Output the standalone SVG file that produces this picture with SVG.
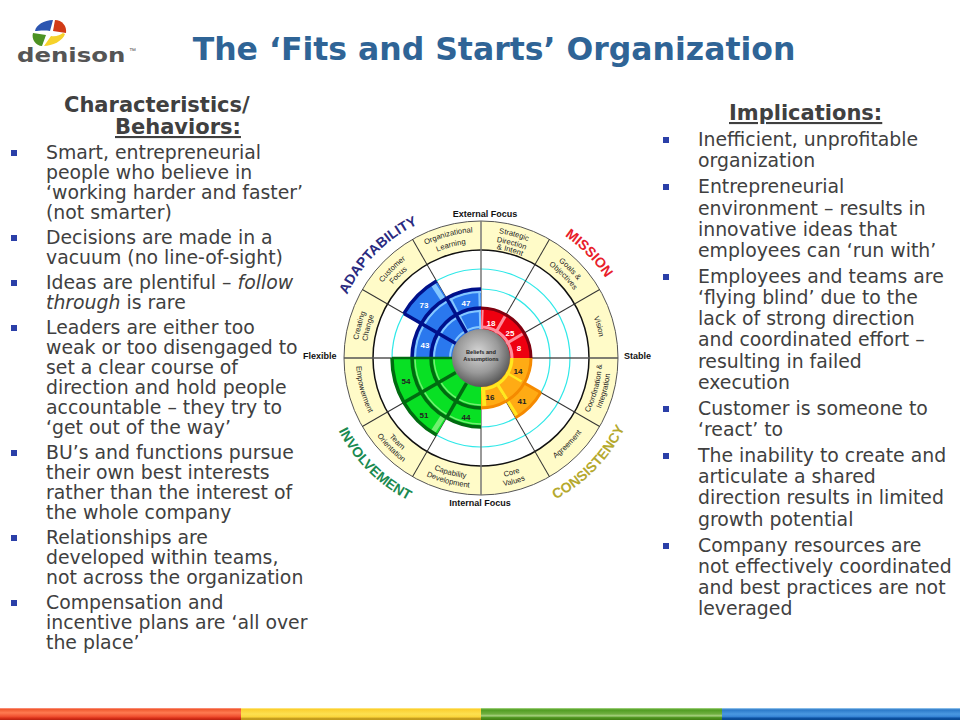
<svg xmlns="http://www.w3.org/2000/svg" width="960" height="720" viewBox="0 0 960 720">
<style>
.title{font:bold 31.5px "DejaVu Sans",Verdana,sans-serif;fill:#2f6496}
.head{font:bold 21px "DejaVu Sans",sans-serif;fill:#404040}
.body{font:18.85px "DejaVu Sans",sans-serif;fill:#404040}
.bul{fill:#2b3fa8}
.it{font-style:italic}
.sec{font:7.6px "Liberation Sans",Arial,sans-serif;fill:#222}
.dim{font:bold 14px "Liberation Sans",Arial,sans-serif}
.axis{font:bold 9px "Liberation Sans",Arial,sans-serif;fill:#111}
.wv{font:bold 8px "Liberation Sans",Arial,sans-serif;fill:#fff;text-anchor:middle}
.bv{font:bold 8px "Liberation Sans",Arial,sans-serif;fill:#222;text-anchor:middle}
.mid{text-anchor:middle}
.spoke{stroke:#333;stroke-width:1}
.db{stroke:#00108a;stroke-width:3.5;fill:none}
.lb{stroke:#85c8ff;stroke-width:2;fill:none}
.dg{stroke:#006b10;stroke-width:3.5;fill:none}
.lg{stroke:#70f070;stroke-width:1.5;fill:none}
.dr{stroke:#80000f;stroke-width:3;fill:none}
.lr{stroke:#ff8c9c;stroke-width:3;fill:none}
.do{stroke:#f58a00;stroke-width:3;fill:none}
.ly{stroke:#ffe820;stroke-width:3;fill:none}
</style>
<defs>
<path id="w50" d="M0,0V-50A50,50 0 0 1 25,-43.3Z"/>
<path id="w69" d="M0,0V-69A69,69 0 0 1 34.5,-59.76Z"/>
<path id="w89" d="M0,0V-89A89,89 0 0 1 44.5,-77.08Z"/>
<path id="a31" d="M0,-31A31,31 0 0 1 15.5,-26.85"/>
<path id="a47" d="M0,-47A47,47 0 0 1 23.5,-40.7"/>
<path id="a50" d="M0,-50A50,50 0 0 1 25,-43.3"/>
<path id="a66" d="M0,-66A66,66 0 0 1 33,-57.16"/>
<path id="a69" d="M0,-69A69,69 0 0 1 34.5,-59.76"/>
<path id="a89" d="M0,-89A89,89 0 0 1 44.5,-77.08"/>
<path id="t110" d="M371,358A110,110 0 0 1 591,358"/>
<path id="t115" d="M366,358A115,115 0 0 1 596,358"/>
<path id="t117" d="M364,358A117,117 0 0 1 598,358"/>
<path id="t120" d="M361,358A120,120 0 0 1 601,358"/>
<path id="t124" d="M357,358A124,124 0 0 1 605,358"/>
<path id="t126" d="M355,358A126,126 0 0 1 607,358"/>
<path id="t148" d="M333,358A148,148 0 0 1 629,358"/>
<path id="b121" d="M360,358A121,121 0 0 0 602,358"/>
<path id="b125" d="M356,358A125,125 0 0 0 606,358"/>
<path id="b130" d="M351,358A130,130 0 0 0 611,358"/>
<path id="b160" d="M321,358A160,160 0 0 0 641,358"/>
<radialGradient id="ball" cx="0.45" cy="0.4" r="0.65">
<stop offset="0" stop-color="#d6d6d6"/><stop offset="0.55" stop-color="#9a9a9a"/><stop offset="1" stop-color="#4a4a4a"/>
</radialGradient>
<linearGradient id="bR" x1="0" y1="0" x2="0" y2="1"><stop offset="0" stop-color="#ffa090"/><stop offset="0.12" stop-color="#f05a30"/><stop offset="0.4" stop-color="#ff7a50"/><stop offset="0.7" stop-color="#f05030"/><stop offset="0.85" stop-color="#d83018"/><stop offset="1" stop-color="#b82010"/></linearGradient>
<linearGradient id="bY" x1="0" y1="0" x2="0" y2="1"><stop offset="0" stop-color="#ffeea0"/><stop offset="0.12" stop-color="#fbd030"/><stop offset="0.5" stop-color="#fde050"/><stop offset="0.75" stop-color="#fbd53a"/><stop offset="0.85" stop-color="#c8a020"/><stop offset="1" stop-color="#c09818"/></linearGradient>
<linearGradient id="bG" x1="0" y1="0" x2="0" y2="1"><stop offset="0" stop-color="#b0dc90"/><stop offset="0.15" stop-color="#4f9c20"/><stop offset="0.5" stop-color="#70b040"/><stop offset="0.65" stop-color="#a8d080"/><stop offset="0.8" stop-color="#509820"/><stop offset="1" stop-color="#407c10"/></linearGradient>
<linearGradient id="bB" x1="0" y1="0" x2="0" y2="1"><stop offset="0" stop-color="#a8d4f4"/><stop offset="0.15" stop-color="#2a78c8"/><stop offset="0.5" stop-color="#4a98e0"/><stop offset="0.7" stop-color="#3a88d8"/><stop offset="0.85" stop-color="#0c50a0"/><stop offset="1" stop-color="#084890"/></linearGradient>
</defs>

<rect width="960" height="720" fill="#fff"/>

<g id="logo">
<path d="M35,31C36,25 44,20 53,20L50,31C44,30 38,31 35,31Z" fill="#2c55b0"/>
<path d="M55,20C62,20 67,26 66,33L53,31Z" fill="#d13a16"/>
<path d="M65,34C63,41 52,46 44,46L51,36C56,37 60,35 63,33Z" fill="#f6d22a"/>
<path d="M33,33L46,35L42,46C36,46 31,39 33,33Z" fill="#4c9224"/>
<text transform="translate(17 62) scale(1.22 1)" style="font:bold 20px 'DejaVu Sans',sans-serif;fill:#555">denison</text>
<text x="129" y="53" style="font:7px 'Liberation Sans',sans-serif;fill:#555">™</text>
</g>

<text class="title" x="494" y="60" text-anchor="middle">The ‘Fits and Starts’ Organization</text>

<g id="left-column">
<text class="head" x="64" y="112">Characteristics/</text>
<text class="head" x="115" y="134" text-decoration="underline">Behaviors:</text>
<rect class="bul" x="11" y="150" width="6" height="6"/>
<rect class="bul" x="11" y="235" width="6" height="6"/>
<rect class="bul" x="11" y="280" width="6" height="6"/>
<rect class="bul" x="11" y="325" width="6" height="6"/>
<rect class="bul" x="11" y="450" width="6" height="6"/>
<rect class="bul" x="11" y="535" width="6" height="6"/>
<rect class="bul" x="11" y="600" width="6" height="6"/>
<text class="body">
<tspan x="46" y="159">Smart, entrepreneurial</tspan>
<tspan x="46" y="179">people who believe in</tspan>
<tspan x="46" y="199">‘working harder and faster’</tspan>
<tspan x="46" y="219">(not smarter)</tspan>
<tspan x="46" y="244">Decisions are made in a</tspan>
<tspan x="46" y="264">vacuum (no line-of-sight)</tspan>
<tspan x="46" y="289">Ideas are plentiful – <tspan class="it">follow</tspan></tspan>
<tspan x="46" y="309" class="it">through</tspan><tspan> is rare</tspan>
<tspan x="46" y="334">Leaders are either too</tspan>
<tspan x="46" y="354">weak or too disengaged to</tspan>
<tspan x="46" y="374">set a clear course of</tspan>
<tspan x="46" y="394">direction and hold people</tspan>
<tspan x="46" y="414">accountable – they try to</tspan>
<tspan x="46" y="434">‘get out of the way’</tspan>
<tspan x="46" y="459">BU’s and functions pursue</tspan>
<tspan x="46" y="479">their own best interests</tspan>
<tspan x="46" y="499">rather than the interest of</tspan>
<tspan x="46" y="519">the whole company</tspan>
<tspan x="46" y="544">Relationships are</tspan>
<tspan x="46" y="564">developed within teams,</tspan>
<tspan x="46" y="584">not across the organization</tspan>
<tspan x="46" y="609">Compensation and</tspan>
<tspan x="46" y="629">incentive plans are ‘all over</tspan>
<tspan x="46" y="649">the place’</tspan>
</text>
</g>

<g id="right-column">
<text class="head" x="729" y="120" text-decoration="underline">Implications:</text>
<rect class="bul" x="663" y="137" width="6" height="6"/>
<rect class="bul" x="663" y="184" width="6" height="6"/>
<rect class="bul" x="663" y="274" width="6" height="6"/>
<rect class="bul" x="663" y="406" width="6" height="6"/>
<rect class="bul" x="663" y="453" width="6" height="6"/>
<rect class="bul" x="663" y="543" width="6" height="6"/>
<text class="body">
<tspan x="698" y="146">Inefficient, unprofitable</tspan>
<tspan x="698" y="167">organization</tspan>
<tspan x="698" y="193">Entrepreneurial</tspan>
<tspan x="698" y="215">environment – results in</tspan>
<tspan x="698" y="236">innovative ideas that</tspan>
<tspan x="698" y="257">employees can ‘run with’</tspan>
<tspan x="698" y="283">Employees and teams are</tspan>
<tspan x="698" y="304">‘flying blind’ due to the</tspan>
<tspan x="698" y="325">lack of strong direction</tspan>
<tspan x="698" y="346">and coordinated effort –</tspan>
<tspan x="698" y="368">resulting in failed</tspan>
<tspan x="698" y="389">execution</tspan>
<tspan x="698" y="415">Customer is someone to</tspan>
<tspan x="698" y="436">‘react’ to</tspan>
<tspan x="698" y="462">The inability to create and</tspan>
<tspan x="698" y="483">articulate a shared</tspan>
<tspan x="698" y="504">direction results in limited</tspan>
<tspan x="698" y="526">growth potential</tspan>
<tspan x="698" y="552">Company resources are</tspan>
<tspan x="698" y="573">not effectively coordinated</tspan>
<tspan x="698" y="594">and best practices are not</tspan>
<tspan x="698" y="615">leveraged</tspan>
</text>
</g>

<g id="wheel">
<g transform="translate(481 358)">
<circle r="137" fill="#fffbc8" stroke="#555" stroke-width="1"/>
<circle r="108" fill="#fff" stroke="#111" stroke-width="1.5"/>
<circle r="89" fill="none" stroke="#30e8e8" stroke-width="1.2"/>
<circle r="69" fill="none" stroke="#30e8e8" stroke-width="1.2"/>
<g class="spoke">
<line y1="-29" y2="-137" transform="rotate(30)"/><line y1="-29" y2="-137" transform="rotate(60)"/>
<line y1="-29" y2="-137" transform="rotate(120)"/><line y1="-29" y2="-137" transform="rotate(150)"/>
<line y1="-29" y2="-137" transform="rotate(210)"/><line y1="-29" y2="-137" transform="rotate(240)"/>
<line y1="-29" y2="-137" transform="rotate(300)"/><line y1="-29" y2="-137" transform="rotate(330)"/>
</g>
<line x1="-137" x2="137" stroke="#555" stroke-width="1.5"/>
<line y1="-137" y2="137" stroke="#777" stroke-width="1.5"/>

<g id="adaptability-cells" fill="#2a78ee">
<use href="#w69" transform="rotate(270)"/><use href="#w89" transform="rotate(300)"/><use href="#w69" transform="rotate(330)"/>
<g class="lb">
<use href="#a31" transform="rotate(270)"/><use href="#a31" transform="rotate(300)"/><use href="#a31" transform="rotate(330)"/>
<use href="#a47" transform="rotate(270)"/><use href="#a47" transform="rotate(300)"/><use href="#a47" transform="rotate(330)"/>
<use href="#a66" transform="rotate(270)"/><use href="#a66" transform="rotate(300)"/><use href="#a66" transform="rotate(330)"/>
<line y1="-29" y2="-69" transform="rotate(358.5)"/>
<line y1="-29" y2="-69" transform="rotate(333)"/>
<line y1="-69" y2="-89" stroke-width="5" transform="rotate(327)"/>
</g>
<g class="db">
<use href="#a50" transform="rotate(270)"/><use href="#a50" transform="rotate(300)"/><use href="#a50" transform="rotate(330)"/>
<use href="#a69" transform="rotate(270)"/><use href="#a69" transform="rotate(330)"/><use href="#a89" transform="rotate(300)"/>
<use href="#a69" transform="rotate(300)"/>
<line y1="-29" y2="-89" transform="rotate(300)"/>
<line y1="-29" y2="-69" transform="rotate(330)"/>
</g>
</g>

<g id="mission-cells" fill="#ee0010">
<use href="#w50" transform="rotate(0)"/><use href="#w50" transform="rotate(30)"/><use href="#w50" transform="rotate(60)"/>
<g class="lr">
<use href="#a31" transform="rotate(0)"/><use href="#a31" transform="rotate(30)"/><use href="#a31" transform="rotate(60)"/>
<line y1="-29" y2="-48" transform="rotate(30)"/><line y1="-29" y2="-48" transform="rotate(60)"/>
<line y1="-29" y2="-48" stroke-width="2" transform="rotate(2)"/>
</g>
<g class="dr">
<use href="#a50" transform="rotate(0)"/><use href="#a50" transform="rotate(30)"/><use href="#a50" transform="rotate(60)"/>
</g>
</g>

<g id="consistency-cells" fill="#ffab14">
<use href="#w50" transform="rotate(90)"/><use href="#w69" transform="rotate(120)"/><use href="#w50" transform="rotate(150)"/>
<g class="ly">
<use href="#a31" transform="rotate(90)"/><use href="#a31" transform="rotate(120)"/><use href="#a31" transform="rotate(150)"/>
<line y1="-29" y2="-47" stroke-width="2.5" transform="rotate(120)"/>
<line y1="-29" y2="-68" transform="rotate(148)"/>
<line y1="-29" y2="-48" stroke-width="4" transform="rotate(176)"/>
</g>
<g class="do">
<use href="#a50" transform="rotate(90)"/><use href="#a50" transform="rotate(120)"/><use href="#a50" transform="rotate(150)"/>
<use href="#a69" transform="rotate(120)"/>
<line y1="-50" y2="-69" transform="rotate(120)"/>
</g>
</g>

<g id="involvement-cells" fill="#08e024">
<use href="#w69" transform="rotate(180)"/><use href="#w89" transform="rotate(210)"/><use href="#w89" transform="rotate(240)"/>
<g class="lg">
<use href="#a47" transform="rotate(180)"/><use href="#a47" transform="rotate(210)"/><use href="#a47" transform="rotate(240)"/>
<use href="#a66" transform="rotate(180)"/><use href="#a66" transform="rotate(210)"/><use href="#a66" transform="rotate(240)"/>
<line y1="-69" y2="-89" stroke-width="5" transform="rotate(213)"/>
</g>
<g class="dg">
<use href="#a50" transform="rotate(180)"/><use href="#a50" transform="rotate(210)"/><use href="#a50" transform="rotate(240)"/>
<use href="#a69" transform="rotate(180)"/><use href="#a69" transform="rotate(210)"/><use href="#a69" transform="rotate(240)"/>
<use href="#a89" transform="rotate(210)"/><use href="#a89" transform="rotate(240)"/>
<line y1="-29" y2="-69" transform="rotate(210)"/>
<line y1="-29" y2="-89" transform="rotate(240)"/>
<line y1="-29" y2="-89" stroke-width="2.5" transform="rotate(270)"/>
</g>
</g>

<circle r="29" fill="url(#ball)"/>
</g>

<g id="cell-values">
<text class="wv" x="491" y="326">18</text>
<text class="wv" x="510" y="336">25</text>
<text class="wv" x="519" y="351">8</text>
<text class="bv" x="518" y="374">14</text>
<text class="bv" x="522" y="404">41</text>
<text class="bv" x="490" y="400">16</text>
<text class="wv" x="466" y="306">47</text>
<text class="wv" x="424" y="308">73</text>
<text class="wv" x="425" y="348">43</text>
<text class="bv" x="406" y="384">54</text>
<text class="bv" x="424" y="418">51</text>
<text class="bv" x="466" y="420">44</text>
</g>

<g id="centre-label" style="font:bold 5.6px 'Liberation Sans',Arial,sans-serif;fill:#222;text-anchor:middle">
<text x="481" y="354">Beliefs and</text>
<text x="481" y="361">Assumptions</text>
</g>

<g id="sector-labels" class="sec">
<text class="sec mid"><textPath href="#t126" startOffset="41.67%" text-anchor="middle">Organizational</textPath></text>
<text class="sec mid"><textPath href="#t115" startOffset="41.67%" text-anchor="middle">Learning</textPath></text>
<text class="sec mid"><textPath href="#t124" startOffset="25%" text-anchor="middle">Customer</textPath></text>
<text class="sec mid"><textPath href="#t115" startOffset="25%" text-anchor="middle">Focus</textPath></text>
<text class="sec mid"><textPath href="#t124" startOffset="8.33%" text-anchor="middle">Creating</textPath></text>
<text class="sec mid"><textPath href="#t115" startOffset="8.33%" text-anchor="middle">Change</textPath></text>
<text class="sec mid"><textPath href="#t126" startOffset="58.33%" text-anchor="middle">Strategic</textPath></text>
<text class="sec mid"><textPath href="#t117" startOffset="58.33%" text-anchor="middle">Direction</textPath></text>
<text class="sec mid"><textPath href="#t110" startOffset="58.33%" text-anchor="middle">&amp; Intent</textPath></text>
<text class="sec mid"><textPath href="#t124" startOffset="75%" text-anchor="middle">Goals &amp;</textPath></text>
<text class="sec mid"><textPath href="#t115" startOffset="75%" text-anchor="middle">Objectives</textPath></text>
<text class="sec mid"><textPath href="#t120" startOffset="91.67%" text-anchor="middle">Vision</textPath></text>
<text class="sec mid"><textPath href="#b125" startOffset="8.33%" text-anchor="middle">Empowerment</textPath></text>
<text class="sec mid"><textPath href="#b121" startOffset="25%" text-anchor="middle">Team</textPath></text>
<text class="sec mid"><textPath href="#b130" startOffset="25%" text-anchor="middle">Orientation</textPath></text>
<text class="sec mid"><textPath href="#b121" startOffset="41.67%" text-anchor="middle">Capability</textPath></text>
<text class="sec mid"><textPath href="#b130" startOffset="41.67%" text-anchor="middle">Development</textPath></text>
<text class="sec mid"><textPath href="#b121" startOffset="58.33%" text-anchor="middle">Core</textPath></text>
<text class="sec mid"><textPath href="#b130" startOffset="58.33%" text-anchor="middle">Values</textPath></text>
<text class="sec mid"><textPath href="#b125" startOffset="75%" text-anchor="middle">Agreement</textPath></text>
<text class="sec mid"><textPath href="#b121" startOffset="91.67%" text-anchor="middle">Coordination &amp;</textPath></text>
<text class="sec mid"><textPath href="#b130" startOffset="91.67%" text-anchor="middle">Integration</textPath></text>
</g>

<g id="dimension-labels">
<text class="dim" fill="#2a2a80"><textPath href="#t148" startOffset="25%" text-anchor="middle">ADAPTABILITY</textPath></text>
<text class="dim" fill="#e8202a"><textPath href="#t148" startOffset="75.5%" text-anchor="middle">MISSION</textPath></text>
<text class="dim" fill="#1a8a50"><textPath href="#b160" startOffset="25%" text-anchor="middle">INVOLVEMENT</textPath></text>
<text class="dim" fill="#b5a92e"><textPath href="#b160" startOffset="75.5%" text-anchor="middle">CONSISTENCY</textPath></text>
</g>

<g id="axis-labels">
<text class="axis" x="485" y="217" text-anchor="middle">External Focus</text>
<text class="axis" x="480" y="506" text-anchor="middle">Internal Focus</text>
<text class="axis" x="303" y="359">Flexible</text>
<text class="axis" x="624" y="359">Stable</text>
</g>
</g>

<g id="footer-bar">
<rect x="0" y="708" width="241" height="12" fill="url(#bR)"/>
<rect x="241" y="708" width="240" height="12" fill="url(#bY)"/>
<rect x="481" y="708" width="241" height="12" fill="url(#bG)"/>
<rect x="722" y="708" width="238" height="12" fill="url(#bB)"/>
</g>
</svg>
